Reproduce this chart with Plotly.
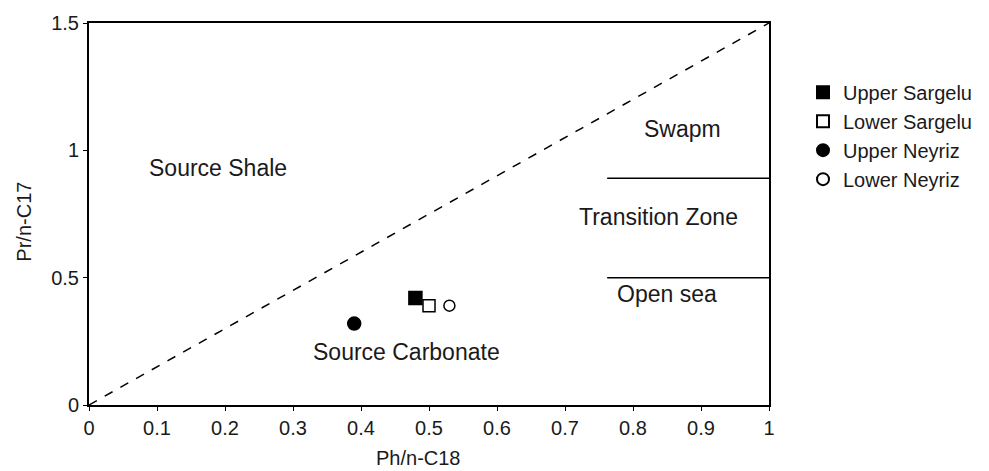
import plotly.graph_objects as go

series_names = ["Upper Sargelu", "Lower Sargelu", "Upper Neyriz", "Lower Neyriz"]
ph_c18 = [0.48, 0.50, 0.39, 0.53]
pr_c17 = [0.42, 0.39, 0.32, 0.39]
symbols = ["square", "square-open", "circle", "circle-open"]
sizes = [13, 12, 13, 11]

zone_labels = ["Source Shale", "Swapm", "Transition Zone", "Open sea", "Source Carbonate"]
zone_x = [0.19, 0.873, 0.838, 0.85, 0.467]
zone_y = [0.93, 1.085, 0.738, 0.435, 0.21]

boundary_y = [0.89, 0.50]
boundary_x0 = 0.762

x_title = "Ph/n-C18"
y_title = "Pr/n-C17"

FONT = "Liberation Sans, Arial, sans-serif"
TXT = "#1a1a1a"

fig = go.Figure()

# diagonal dashed line
fig.add_trace(go.Scatter(x=[0, 1], y=[0, 1.5], mode="lines",
                         line=dict(color="black", width=1.5, dash="dash"),
                         showlegend=False, hoverinfo="skip"))
for by in boundary_y:
    fig.add_trace(go.Scatter(x=[boundary_x0, 1], y=[by, by], mode="lines",
                             line=dict(color="black", width=1.5),
                             showlegend=False, hoverinfo="skip"))

for i, name in enumerate(series_names):
    fig.add_trace(go.Scatter(x=[ph_c18[i]], y=[pr_c17[i]], mode="markers", name=name,
                             legendgroup=name,
                             marker=dict(symbol=symbols[i], size=sizes[i], color="black",
                                         line=dict(color="black", width=1.5))))

for t, x, y in zip(zone_labels, zone_x, zone_y):
    fig.add_annotation(x=x, y=y, text=t, showarrow=False,
                       font=dict(size=23, color=TXT, family=FONT))

# axis titles
fig.add_annotation(xref="paper", yref="paper", x=0.485, y=0, yshift=-53,
                   xanchor="center", yanchor="middle", text=x_title,
                   showarrow=False, font=dict(size=20, color=TXT, family=FONT))
fig.add_annotation(xref="paper", yref="paper", x=0, xshift=-65, y=0.48,
                   xanchor="center", yanchor="middle", text=y_title,
                   textangle=-90, showarrow=False, font=dict(size=20, color=TXT, family=FONT))

axis_common = dict(showline=True, linecolor="black", linewidth=2, mirror=True,
                   ticks="outside", ticklen=4, tickcolor="black", tickwidth=1,
                   showgrid=False, zeroline=False,
                   tickfont=dict(size=20, color=TXT, family=FONT))

fig.update_xaxes(range=[0, 1], tickvals=[0, 0.1, 0.2, 0.3, 0.4, 0.5, 0.6, 0.7, 0.8, 0.9, 1],
                 ticktext=["0", "0.1", "0.2", "0.3", "0.4", "0.5", "0.6", "0.7", "0.8", "0.9", "1"],
                 **axis_common)
fig.update_yaxes(range=[0, 1.5], tickvals=[0, 0.5, 1, 1.5], ticktext=["0", "0.5", "1", "1.5"],
                 **axis_common)

fig.update_layout(
    width=989, height=471,
    margin=dict(l=89, r=218, t=15, b=66),
    paper_bgcolor="white", plot_bgcolor="white",
    legend=dict(x=1.05, y=0.87, xanchor="left", yanchor="top",
                font=dict(size=20, color=TXT, family=FONT),
                tracegroupgap=0, itemsizing="constant"),
)

fig.write_html("out.html")
